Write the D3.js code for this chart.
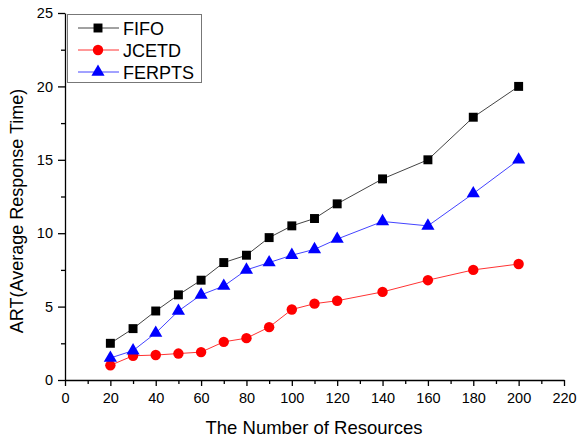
<!DOCTYPE html>
<html>
<head>
<meta charset="utf-8">
<script src="https://cdn.jsdelivr.net/npm/d3@7"></script>
<style>
  body { margin: 0; background: #fff; }
  svg { font-family: "Liberation Sans", Arial, sans-serif; }
</style>
</head>
<body>
<svg width="578" height="440"></svg>
<script>
var WIDTH = 578, HEIGHT = 440;

// data
var resources = [20, 30, 40, 50, 60, 70, 80, 90, 100, 110, 120, 140, 160, 180, 200];
var fifo   = [2.5, 3.5, 4.7, 5.8, 6.8, 8.0, 8.5, 9.7, 10.5, 11.0, 12.0, 13.7, 15.0, 17.9, 20.0];
var jcetd  = [1.0, 1.65, 1.7, 1.8, 1.9, 2.6, 2.85, 3.6, 4.8, 5.2, 5.4, 6.0, 6.8, 7.5, 7.9];
var ferpts = [1.5, 2.0, 3.2, 4.7, 5.8, 6.4, 7.5, 8.0, 8.5, 8.9, 9.6, 10.8, 10.5, 12.7, 15.0];
var seriesNames = ["FIFO", "JCETD", "FERPTS"];
var xTicks = [0, 20, 40, 60, 80, 100, 120, 140, 160, 180, 200, 220];
var yTicks = [0, 5, 10, 15, 20, 25];

var series = [
  {name: "FIFO", values: fifo, line: "#444", fill: "#000", shape: d3.symbolSquare, size: 80},
  {name: "JCETD", values: jcetd, line: "#ff3333", fill: "#ff0000", shape: d3.symbolCircle, size: 85},
  {name: "FERPTS", values: ferpts, line: "#4444ff", fill: "#0000ff", shape: d3.symbolTriangle, size: 75}
];

var svg = d3.select("svg");

var x = d3.scaleLinear().domain([0, 220]).range([65, 564]);
var y = d3.scaleLinear().domain([0, 25]).range([380, 13]);

// minor ticks
svg.append("g")
    .attr("transform", "translate(0,380)")
    .call(d3.axisBottom(x).tickValues(d3.range(10, 220, 20)).tickSize(4).tickFormat(""))
    .call(function(g){ g.select(".domain").remove(); });
svg.append("g")
    .attr("transform", "translate(65,0)")
    .call(d3.axisLeft(y).tickValues(d3.range(2.5, 25, 5)).tickSize(4).tickFormat(""))
    .call(function(g){ g.select(".domain").remove(); });

// major axes
var xAxis = svg.append("g")
    .attr("transform", "translate(0,380)")
    .call(d3.axisBottom(x).tickValues(xTicks).tickSize(6).tickSizeOuter(0));
var yAxis = svg.append("g")
    .attr("transform", "translate(65,0)")
    .call(d3.axisLeft(y).tickValues(yTicks).tickSize(7).tickSizeOuter(0));

svg.selectAll(".tick line, .domain").attr("stroke", "#000").attr("stroke-width", 1.3);
xAxis.selectAll("text").attr("font-size", 14.5).attr("font-family", "Liberation Sans, Arial").attr("dy", "0.95em").attr("fill", "#000");
yAxis.selectAll("text").attr("font-size", 14.5).attr("font-family", "Liberation Sans, Arial").attr("x", -12).attr("fill", "#000");

// axis titles
svg.append("text")
    .attr("x", 314).attr("y", 434)
    .attr("text-anchor", "middle")
    .attr("font-size", 18.5)
    .text("The Number of Resources");
svg.append("text")
    .attr("transform", "translate(23,211) rotate(-90)")
    .attr("text-anchor", "middle")
    .attr("font-size", 18)
    .text("ART(Average Response Time)");

// lines + markers
var line = d3.line()
    .x(function(d, i){ return x(resources[i]); })
    .y(function(d){ return y(d); });

series.forEach(function(s){
  svg.append("path")
      .datum(s.values)
      .attr("fill", "none")
      .attr("stroke", s.line)
      .attr("stroke-width", 1)
      .attr("d", line);
  svg.append("g").selectAll("path")
      .data(s.values)
      .enter()
      .append("path")
      .attr("transform", function(d, i){ return "translate(" + x(resources[i]) + "," + y(d) + ")"; })
      .attr("d", d3.symbol().type(s.shape).size(s.size))
      .attr("fill", s.fill);
});

// legend
var legend = svg.append("g");
legend.append("rect")
    .attr("x", 67.5).attr("y", 14.5).attr("width", 134).attr("height", 68)
    .attr("fill", "#fff").attr("stroke", "#777").attr("stroke-width", 1);
series.forEach(function(s, i){
  var ly = 28 + i * 22;
  legend.append("line")
      .attr("x1", 78).attr("x2", 119).attr("y1", ly).attr("y2", ly)
      .attr("stroke", s.line).attr("stroke-width", 1);
  legend.append("path")
      .attr("transform", "translate(98," + ly + ")")
      .attr("d", d3.symbol().type(s.shape).size(s.size))
      .attr("fill", s.fill);
  legend.append("text")
      .attr("x", 123).attr("y", ly + 6.5)
      .attr("font-size", 18)
      .text(seriesNames[i]);
});
</script>
</body>
</html>
